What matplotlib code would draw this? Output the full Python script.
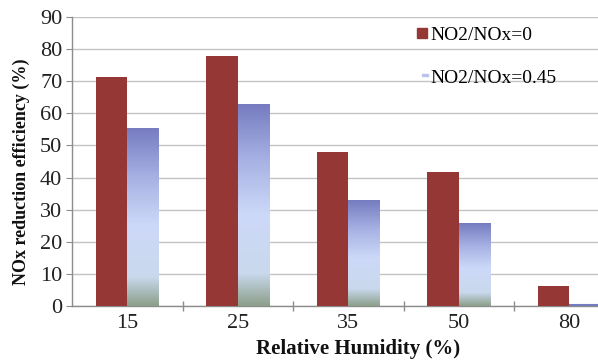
import numpy as np
import matplotlib
matplotlib.use("Agg")
import matplotlib.pyplot as plt
from matplotlib.colors import LinearSegmentedColormap
from matplotlib.lines import Line2D
from matplotlib.path import Path

# Data
humidity = ["15", "25", "35", "50", "80"]
eff_ratio_0 = [71.2, 77.8, 47.8, 41.6, 6.3]
eff_ratio_045 = [55.4, 62.8, 33.0, 25.6, 0.3]
series_labels = ["NO2/NOx=0", "NO2/NOx=0.45"]
yticks = [0, 10, 20, 30, 40, 50, 60, 70, 80, 90]

RED = "#953735"
GRID = "#c3c3c3"
SPINE = "#8c8c8c"

plt.rcParams["font.family"] = ["Liberation Serif", "DejaVu Serif"]

fig = plt.figure(figsize=(5.98, 3.61), dpi=100)
ax = fig.add_axes([0.1204, 0.1524, 0.924, 0.8006])

x = np.arange(len(humidity))
w = 0.285
off = 0.143

# red series: solid bars
ax.bar(x - off, eff_ratio_0, width=w, color=RED, zorder=3, linewidth=0)

# blue series: vertical gradient inside each bar (dark top -> pale -> greenish base)
grad = LinearSegmentedColormap.from_list(
    "bluefade",
    [(0.0, "#8c9f8a"), (0.16, "#c9d8ec"), (0.45, "#cdd9f8"), (0.72, "#a8b2e4"), (1.0, "#767cc0")],
)
col = np.linspace(0, 1, 256).reshape(-1, 1)
for xi, h in zip(x, eff_ratio_045):
    x0, x1 = xi + off - w / 2, xi + off + w / 2
    if h < 1.0:
        ax.plot([x0, x1], [h, h], color="#767cc0", lw=1.5, zorder=4, clip_on=False,
                solid_capstyle="butt")
    else:
        ax.imshow(col, cmap=grad, origin="lower", aspect="auto",
                  extent=(x0, x1, 0, h), zorder=3, interpolation="bilinear")

ax.set_xlim(-0.5, len(humidity) - 0.5)
ax.set_ylim(0, 90)
ax.set_yticks(yticks)
ax.set_xticks(x)
ax.set_xticklabels(humidity)
ax.set_xticks(np.arange(len(humidity) - 1) + 0.5, minor=True)

ax.yaxis.grid(True, color=GRID, lw=1.0, zorder=0)
ax.set_axisbelow(True)
for s in ["top", "right"]:
    ax.spines[s].set_visible(False)
for s in ["left", "bottom"]:
    ax.spines[s].set_color(SPINE)
    ax.spines[s].set_linewidth(1.0)

ax.tick_params(axis="y", labelsize=16, colors="#222222", length=4, color=SPINE, pad=3)
ax.tick_params(axis="x", which="major", labelsize=16, colors="#222222", length=0, pad=6)
ax.tick_params(axis="x", which="minor", length=7, direction="inout", color=SPINE, width=1)

fig.text(0.036, 0.525, "NOx reduction efficiency (%)", rotation=90, fontsize=13,
         fontweight="bold", ha="center", va="center", color="#111111")
fig.text(0.599, 0.033, "Relative Humidity (%)", fontsize=15, fontweight="bold",
         ha="center", va="center", color="#111111")

# legend markers: red square, thin pale-blue rectangle
flat_rect = Path([(0, 0), (1, 0), (1, 0.45), (0, 0.45), (0, 0)],
                 [Path.MOVETO, Path.LINETO, Path.LINETO, Path.LINETO, Path.CLOSEPOLY])
handles = [
    Line2D([], [], ls="", marker="s", ms=7, color=RED, mec=RED),
    Line2D([], [], ls="", marker=flat_rect, ms=8, color="#b8c4ee", mec="#b8c4ee"),
]
ax.legend(handles, series_labels, loc="upper left", bbox_to_anchor=(0.608, 0.995),
          frameon=False, fontsize=14, handlelength=0.6, handletextpad=0.15,
          labelspacing=1.3, borderaxespad=0)

fig.savefig("out.png", dpi=100)
